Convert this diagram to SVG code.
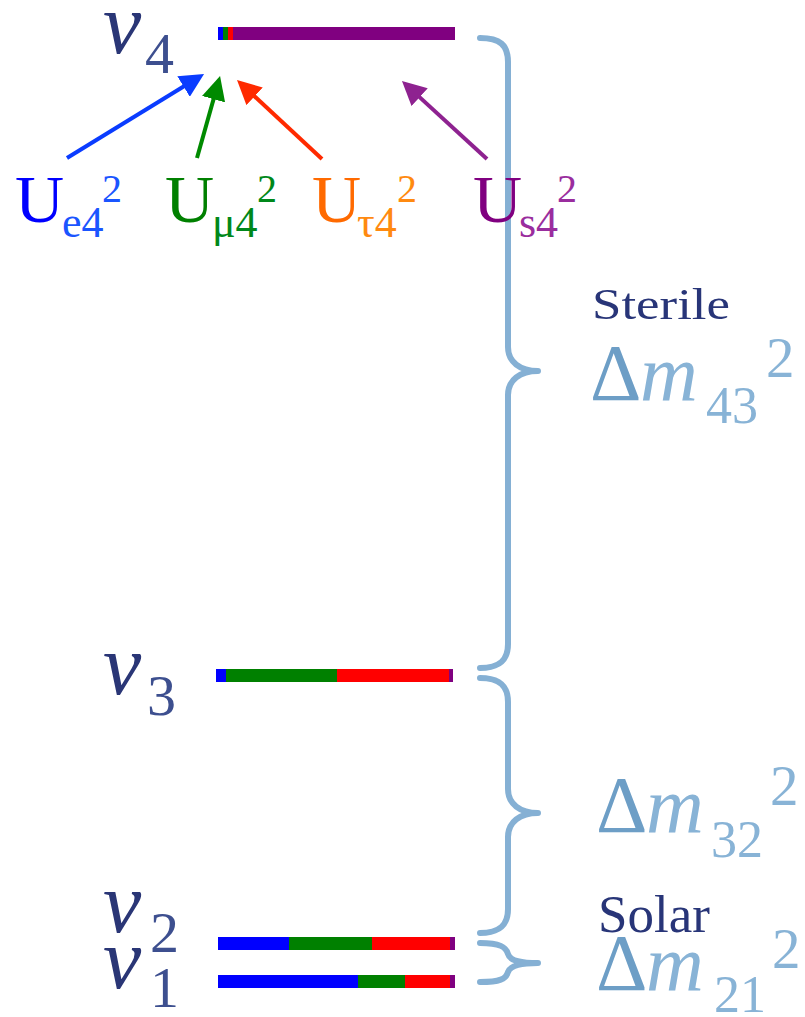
<svg xmlns="http://www.w3.org/2000/svg" width="805" height="1017" viewBox="0 0 805 1017">
<style>
.nu{font-family:"Liberation Serif","Times New Roman",serif;font-style:italic;font-size:86px;fill:#2a3676}
.nsub{font-family:"Liberation Serif","Times New Roman",serif;font-size:58px;fill:#3d4f8f}
.ser{font-family:"Liberation Serif","Times New Roman",serif}
.U{font-size:68px}
.usub{font-size:44px}
.usup{font-size:40px}
.word{font-family:"Liberation Serif","Times New Roman",serif;fill:#283578}
.delta{font-family:"Liberation Serif","Times New Roman",serif;font-size:80px;fill:#6d9ec6}
.m{font-family:"Liberation Serif","Times New Roman",serif;font-style:italic;font-size:80px;fill:#88b3d6}
.dsub{font-family:"Liberation Serif","Times New Roman",serif;font-size:52px;fill:#88b3d6}
.dsup{font-family:"Liberation Serif","Times New Roman",serif;font-size:57px;fill:#88b3d6}
.brace{fill:none;stroke:#85b0d4;stroke-width:6;stroke-linecap:round;stroke-linejoin:round}
.arr{stroke-width:4;fill:none}
</style>
<defs>
<marker id="hb" viewBox="0 0 10 10" refX="5" refY="5" markerWidth="6" markerHeight="6" orient="auto"><path d="M0,0 L10,5 L0,10 z" fill="#0a3cff"/></marker>
<marker id="hg" viewBox="0 0 10 10" refX="5" refY="5" markerWidth="6" markerHeight="6" orient="auto"><path d="M0,0 L10,5 L0,10 z" fill="#008a00"/></marker>
<marker id="hr" viewBox="0 0 10 10" refX="5" refY="5" markerWidth="6" markerHeight="6" orient="auto"><path d="M0,0 L10,5 L0,10 z" fill="#ff2a00"/></marker>
<marker id="hp" viewBox="0 0 10 10" refX="5" refY="5" markerWidth="6" markerHeight="6" orient="auto"><path d="M0,0 L10,5 L0,10 z" fill="#8e2290"/></marker>
</defs>

<g id="nu4">
<rect x="218" y="27" width="5" height="13" fill="#0000ff"/>
<rect x="223" y="27" width="5" height="13" fill="#008000"/>
<rect x="228" y="27" width="5" height="13" fill="#ff0000"/>
<rect x="233" y="27" width="222" height="13" fill="#800080"/>
<text class="nu" x="103" y="53">ν</text><text class="nsub" x="145" y="73">4</text>
</g>
<g id="nu3">
<rect x="216" y="669" width="10" height="13" fill="#0000ff"/>
<rect x="226" y="669" width="111" height="13" fill="#008000"/>
<rect x="337" y="669" width="112" height="13" fill="#ff0000"/>
<rect x="449" y="669" width="4" height="13" fill="#800080"/>
<text class="nu" x="103" y="694">ν</text><text class="nsub" x="147" y="715">3</text>
</g>
<g id="nu2">
<rect x="218" y="937" width="71" height="13" fill="#0000ff"/>
<rect x="289" y="937" width="83" height="13" fill="#008000"/>
<rect x="372" y="937" width="78" height="13" fill="#ff0000"/>
<rect x="450" y="937" width="5" height="13" fill="#800080"/>
<text class="nu" x="103" y="932">ν</text><text class="nsub" x="150" y="952">2</text>
</g>
<g id="nu1">
<rect x="218" y="975" width="140" height="13" fill="#0000ff"/>
<rect x="358" y="975" width="47" height="13" fill="#008000"/>
<rect x="405" y="975" width="45" height="13" fill="#ff0000"/>
<rect x="450" y="975" width="5" height="13" fill="#800080"/>
<text class="nu" x="103" y="988">ν</text><text class="nsub" x="150" y="1007">1</text>
</g>

<g id="connectors">
<line class="arr" x1="67" y1="158" x2="193.8" y2="80.3" stroke="#0a3cff" marker-end="url(#hb)"/>
<line class="arr" x1="197" y1="158" x2="216.8" y2="87.6" stroke="#008a00" marker-end="url(#hg)"/>
<line class="arr" x1="322" y1="159" x2="245.8" y2="88.2" stroke="#ff2a00" marker-end="url(#hr)"/>
<line class="arr" x1="487" y1="159" x2="410.8" y2="89.1" stroke="#8e2290" marker-end="url(#hp)"/>
</g>

<g id="brace43">
<path class="brace" d="M480,38 C500,38 508,45 508,62 L508,347 C508,362 520,371 538,371 C520,371 508,380 508,395 L508,644 C508,660 500,668 480,668"/>
</g>
<g id="brace32">
<path class="brace" d="M480,678 C500,678 508,686 508,702 L508,789 C508,804 520,813 538,813 C520,813 508,822 508,837 L508,909 C508,925 500,933 480,933"/>
</g>
<g id="brace21">
<path class="brace" d="M480,943 C500,943 506,947 508,954 C510,961 520,963 538,963 C520,963 510,966 508,972 C506,979 500,982 480,982"/>
</g>

<g id="Ue4">
<text class="ser U" x="15" y="222" fill="#0000ff">U</text>
<text class="ser usub" x="62" y="237" fill="#1a55ff">e4</text>
<text class="ser usup" x="102" y="202" fill="#1a55ff">2</text>
</g>
<g id="Umu4">
<text class="ser U" x="165" y="222" fill="#008000">U</text>
<text class="ser usub" x="212" y="237" fill="#00881a">μ4</text>
<text class="ser usup" x="257" y="202" fill="#00881a">2</text>
</g>
<g id="Utau4">
<text class="ser U" x="312" y="222" fill="#ff6a00">U</text>
<text class="ser usub" x="357" y="237" fill="#ff8a10">τ4</text>
<text class="ser usup" x="397" y="202" fill="#ff8a10">2</text>
</g>
<g id="Us4">
<text class="ser U" x="473" y="222" fill="#800080">U</text>
<text class="ser usub" x="519" y="237" fill="#9a2d9e">s4</text>
<text class="ser usup" x="557" y="202" fill="#9a2d9e">2</text>
</g>

<g id="dm43">
<text class="word" x="592" y="319" font-size="44" textLength="138" lengthAdjust="spacingAndGlyphs">Sterile</text>
<text class="delta" x="590" y="400">Δ</text>
<text class="m" x="640" y="400">m</text>
<text class="dsub" x="706" y="423">43</text>
<text class="dsup" x="766" y="377">2</text>
</g>
<g id="dm32">
<text class="delta" x="596" y="832">Δ</text>
<text class="m" x="646" y="832">m</text>
<text class="dsub" x="711" y="857">32</text>
<text class="dsup" x="770" y="805">2</text>
</g>
<g id="dm21">
<text class="word" x="598" y="932" font-size="53">Solar</text>
<text class="delta" x="596" y="990">Δ</text>
<text class="m" x="646" y="990">m</text>
<text class="dsub" x="714" y="1012">21</text>
<text class="dsup" x="772" y="968">2</text>
</g>
</svg>
